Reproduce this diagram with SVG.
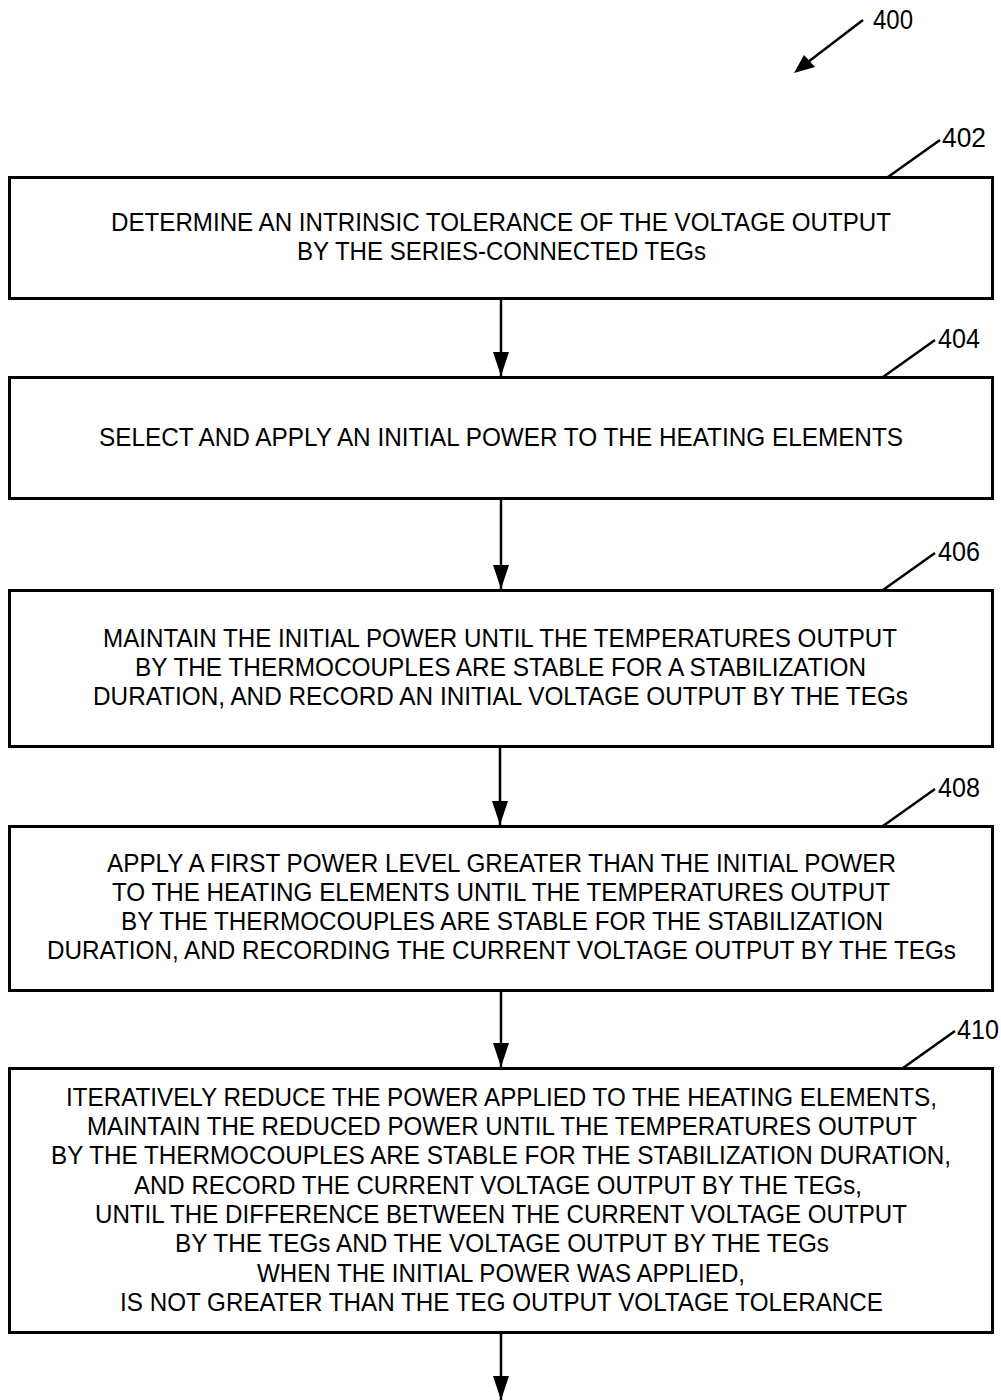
<svg xmlns="http://www.w3.org/2000/svg" width="1001" height="1400" viewBox="0 0 1001 1400">
<style>
.box{fill:#fff;stroke:#000;stroke-width:3}
.t{font-family:"Liberation Sans",Arial,sans-serif;font-size:26px;fill:#000}
.s{font-size:25px}
.ref{font-family:"Liberation Sans",Arial,sans-serif;font-size:27px;fill:#000}
.ld{stroke:#000;stroke-width:2.5;fill:none}
.c{stroke:#000;stroke-width:2.5;fill:none}
</style>
<defs>
<marker id="ah" markerWidth="24" markerHeight="16" refX="24" refY="8" orient="auto" markerUnits="userSpaceOnUse" viewBox="0 0 24 16">
<path d="M0,0 L24,8 L0,16 Z" fill="#000"/>
</marker>
</defs>
<rect width="1001" height="1400" fill="#fff"/>
<g id="label400">
<text class="ref" x="873" y="29" textLength="40" lengthAdjust="spacingAndGlyphs">400</text>
<line class="ld" x1="863" y1="20" x2="808" y2="62"/>
<path d="M794,73 L804,55 L815,67 Z" fill="#000"/>
</g>
<g id="connectors">
<line class="c" x1="501" y1="299" x2="501" y2="376" marker-end="url(#ah)"/>
<line class="c" x1="501" y1="499" x2="501" y2="589" marker-end="url(#ah)"/>
<line class="c" x1="500" y1="747" x2="500" y2="825" marker-end="url(#ah)"/>
<line class="c" x1="501" y1="991" x2="501" y2="1067" marker-end="url(#ah)"/>
<line class="c" x1="501" y1="1333" x2="501" y2="1400" marker-end="url(#ah)"/>
</g>
<g id="n402">
<rect class="box" x="9.5" y="177.5" width="983" height="121"/>
<text class="t" x="111" y="231" textLength="780" lengthAdjust="spacingAndGlyphs">DETERMINE AN INTRINSIC TOLERANCE OF THE VOLTAGE OUTPUT</text>
<text class="t" x="297" y="260" textLength="409" lengthAdjust="spacingAndGlyphs">BY THE SERIES-CONNECTED TEGs</text>
<line class="ld" x1="888" y1="177" x2="940" y2="140"/>
<text class="ref" x="942" y="147" textLength="44" lengthAdjust="spacingAndGlyphs">402</text>
</g>
<g id="n404">
<rect class="box" x="9.5" y="377.5" width="983" height="121"/>
<text class="t" x="99" y="446" textLength="804" lengthAdjust="spacingAndGlyphs">SELECT AND APPLY AN INITIAL POWER TO THE HEATING ELEMENTS</text>
<line class="ld" x1="883" y1="377" x2="935" y2="340"/>
<text class="ref" x="938" y="348" textLength="42" lengthAdjust="spacingAndGlyphs">404</text>
</g>
<g id="n406">
<rect class="box" x="9.5" y="590.5" width="983" height="156"/>
<text class="t" x="103" y="647" textLength="794" lengthAdjust="spacingAndGlyphs">MAINTAIN THE INITIAL POWER UNTIL THE TEMPERATURES OUTPUT</text>
<text class="t" x="135" y="676" textLength="731" lengthAdjust="spacingAndGlyphs">BY THE THERMOCOUPLES ARE STABLE FOR A STABILIZATION</text>
<text class="t" x="93" y="705" textLength="815" lengthAdjust="spacingAndGlyphs">DURATION, AND RECORD AN INITIAL VOLTAGE OUTPUT BY THE TEGs</text>
<line class="ld" x1="883" y1="590" x2="935" y2="553"/>
<text class="ref" x="938" y="561" textLength="42" lengthAdjust="spacingAndGlyphs">406</text>
</g>
<g id="n408">
<rect class="box" x="9.5" y="826.5" width="983" height="164"/>
<text class="t" x="107" y="872" textLength="789" lengthAdjust="spacingAndGlyphs">APPLY A FIRST POWER LEVEL GREATER THAN THE INITIAL POWER</text>
<text class="t" x="112" y="901" textLength="778" lengthAdjust="spacingAndGlyphs">TO THE HEATING ELEMENTS UNTIL THE TEMPERATURES OUTPUT</text>
<text class="t" x="121" y="930" textLength="762" lengthAdjust="spacingAndGlyphs">BY THE THERMOCOUPLES ARE STABLE FOR THE STABILIZATION</text>
<text class="t s" x="47" y="959" textLength="909" lengthAdjust="spacingAndGlyphs">DURATION, AND RECORDING THE CURRENT VOLTAGE OUTPUT BY THE TEGs</text>
<line class="ld" x1="883" y1="826" x2="935" y2="789"/>
<text class="ref" x="938" y="797" textLength="42" lengthAdjust="spacingAndGlyphs">408</text>
</g>
<g id="n410">
<rect class="box" x="9.5" y="1068.5" width="983" height="264"/>
<text class="t" x="66" y="1106" textLength="871" lengthAdjust="spacingAndGlyphs">ITERATIVELY REDUCE THE POWER APPLIED TO THE HEATING ELEMENTS,</text>
<text class="t" x="87" y="1135" textLength="830" lengthAdjust="spacingAndGlyphs">MAINTAIN THE REDUCED POWER UNTIL THE TEMPERATURES OUTPUT</text>
<text class="t s" x="51" y="1164" textLength="900" lengthAdjust="spacingAndGlyphs">BY THE THERMOCOUPLES ARE STABLE FOR THE STABILIZATION DURATION,</text>
<text class="t" x="134" y="1194" textLength="728" lengthAdjust="spacingAndGlyphs">AND RECORD THE CURRENT VOLTAGE OUTPUT BY THE TEGs,</text>
<text class="t" x="95" y="1223" textLength="812" lengthAdjust="spacingAndGlyphs">UNTIL THE DIFFERENCE BETWEEN THE CURRENT VOLTAGE OUTPUT</text>
<text class="t" x="175" y="1252" textLength="654" lengthAdjust="spacingAndGlyphs">BY THE TEGs AND THE VOLTAGE OUTPUT BY THE TEGs</text>
<text class="t" x="257" y="1282" textLength="488" lengthAdjust="spacingAndGlyphs">WHEN THE INITIAL POWER WAS APPLIED,</text>
<text class="t" x="120" y="1311" textLength="763" lengthAdjust="spacingAndGlyphs">IS NOT GREATER THAN THE TEG OUTPUT VOLTAGE TOLERANCE</text>
<line class="ld" x1="903" y1="1068" x2="955" y2="1031"/>
<text class="ref" x="957" y="1039" textLength="42" lengthAdjust="spacingAndGlyphs">410</text>
</g>
</svg>
